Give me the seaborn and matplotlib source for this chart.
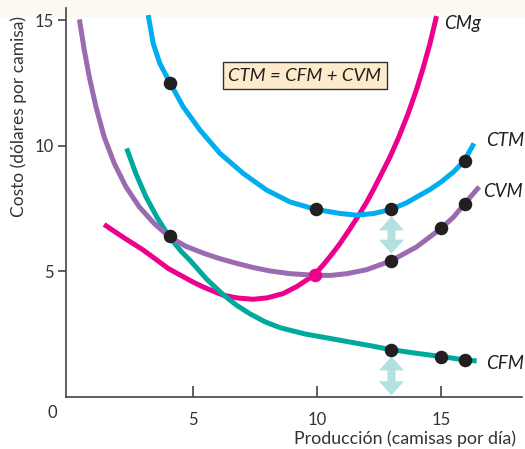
import matplotlib
matplotlib.use("Agg")
import matplotlib.pyplot as plt
import seaborn as sns
from matplotlib.patches import Rectangle

# curves (output, cost)
ctm_x = [3.18, 3.38, 3.65, 4.06, 4.59, 5.27, 6.08, 7.02, 7.96, 8.9, 9.94, 10.92, 11.6, 12.3,
         12.98, 13.6, 14.1, 14.55, 15.0, 15.5, 15.93, 16.33]
ctm_y = [15.2, 14.07, 13.27, 12.5, 11.55, 10.62, 9.69, 8.89, 8.23, 7.76, 7.46, 7.30, 7.23, 7.3,
         7.46, 7.72, 8.0, 8.25, 8.55, 8.95, 9.38, 10.09]

cvm_x = [0.40, 0.60, 0.80, 1.07, 1.40, 1.81, 2.28, 2.82, 3.42, 4.03, 4.7, 5.4, 6.0, 6.75, 7.4,
         8.09, 8.9, 9.87, 10.52, 11.2, 12.0, 12.98, 14.02, 15.0, 15.5, 15.93, 16.54]
cvm_y = [15.03, 13.80, 12.74, 11.55, 10.35, 9.29, 8.36, 7.56, 6.90, 6.37, 5.99, 5.72, 5.52, 5.31,
         5.15, 5.01, 4.9, 4.84, 4.83, 4.9, 5.06, 5.41, 5.97, 6.7, 7.15, 7.66, 8.36]

cfm_x = [2.31, 2.68, 3.09, 3.56, 4.03, 4.5, 4.86, 5.54, 6.21, 6.75, 7.29, 7.9, 8.5, 9.5, 10.52,
         11.3, 12.1, 12.94, 14.0, 15.0, 15.93, 16.44]
cfm_y = [9.89, 8.89, 7.96, 7.10, 6.37, 5.8, 5.44, 4.68, 4.06, 3.64, 3.30, 2.98, 2.75, 2.5, 2.32,
         2.18, 2.04, 1.88, 1.73, 1.6, 1.47, 1.42]

cmg_x = [1.40, 2.2, 2.98, 4.0, 5.0, 5.4, 6.21, 6.8, 7.42, 8.0, 8.63, 9.2, 9.87, 10.2, 10.52,
         10.9, 11.3, 11.66, 12.0, 12.3, 12.6, 12.94, 13.3, 13.68, 14.0, 14.28, 14.55, 14.82]
cmg_y = [6.86, 6.33, 5.84, 5.1, 4.56, 4.37, 4.04, 3.93, 3.88, 3.94, 4.11, 4.4, 4.84, 5.2, 5.58,
         6.07, 6.65, 7.2, 7.75, 8.3, 8.88, 9.55, 10.35, 11.3, 12.2, 13.1, 14.05, 15.16]

# marked points
ctm_dot_x = [4.05, 9.95, 13.0, 15.95]
ctm_dot_y = [12.5, 7.47, 7.46, 9.38]
cvm_dot_x = [4.05, 13.0, 15.0, 15.95]
cvm_dot_y = [6.39, 5.41, 6.7, 7.66]
cfm_dot_x = [13.0, 15.0, 15.95]
cfm_dot_y = [1.87, 1.59, 1.46]
cmg_dot_x = [9.9]
cmg_dot_y = [4.84]

# arrows at 13 shirts: CTM - CVM gap and CFM
arrow_x = 13.0
gap_top, gap_bottom = 7.18, 5.70
cfm_top, cfm_bottom = 1.60, 0.06

curve_labels = ["CMg", "CTM", "CVM", "CFM"]
label_x = [15.12, 16.8, 16.69, 16.8]
label_y = [14.88, 10.22, 8.19, 1.33]

blue = "#00aeef"
purple = "#9b6bb0"
green = "#00a99d"
pink = "#ec008c"
dot_col = "#231f20"
arrow_col = "#b3e0e1"

sns.set_style("ticks")
plt.rcParams["font.family"] = ["Lato", "DejaVu Sans"]

fig = plt.figure(figsize=(5.25, 4.49), dpi=100)
fig.patches.append(Rectangle((0, 1 - 16 / 449), 1, 16 / 449, transform=fig.transFigure,
                             color="#fbf9f1", zorder=-5))
ax = fig.add_axes([0.1257, 0.1165, 0.8686, 0.8655])
ax.patch.set_alpha(0)

lw = 3.6
for xs, ys, c in [(cmg_x, cmg_y, pink), (cfm_x, cfm_y, green),
                  (cvm_x, cvm_y, purple), (ctm_x, ctm_y, blue)]:
    sns.lineplot(x=xs, y=ys, color=c, lw=lw, sort=False, estimator=None, ax=ax,
                 solid_capstyle="butt", solid_joinstyle="round")

# fat double arrows
def fat_arrow(y0, y1):
    mid = (y0 + y1) / 2
    for end in (y0, y1):
        ax.annotate("", xy=(arrow_x, end), xytext=(arrow_x, mid),
                    arrowprops=dict(arrowstyle="simple,head_length=10,head_width=18,tail_width=5.8",
                                    mutation_scale=1, color=arrow_col, lw=0,
                                    shrinkA=0, shrinkB=0), zorder=1)

fat_arrow(gap_top, gap_bottom)
fat_arrow(cfm_top, cfm_bottom)

sns.scatterplot(x=ctm_dot_x + cvm_dot_x + cfm_dot_x, y=ctm_dot_y + cvm_dot_y + cfm_dot_y,
                color=dot_col, s=95, linewidth=0, zorder=5, ax=ax)
sns.scatterplot(x=cmg_dot_x, y=cmg_dot_y, color=pink, s=95, linewidth=0, zorder=5, ax=ax)

for t, lx, ly in zip(curve_labels, label_x, label_y):
    ax.text(lx, ly, t, fontsize=13.5, style="italic", color=dot_col, ha="left", va="center")

ax.text(9.5, 12.78, "CTM = CFM + CVM", fontsize=13.3, style="italic", color=dot_col,
        ha="center", va="center",
        bbox=dict(boxstyle="square,pad=0.3", fc="#fdebcc", ec="#333333", lw=1))

ax.set_xlim(-0.14, 18.27)
ax.set_ylim(0, 15.48)
ax.set_xticks([5, 10, 15])
ax.set_yticks([5, 10, 15])
ax.tick_params(axis="x", direction="in", length=8, width=1.2, pad=11, labelsize=12,
               colors="#444444", labelcolor="#333333")
ax.tick_params(axis="y", direction="out", length=6, width=1.2, pad=3, labelsize=12,
               colors="#444444", labelcolor="#333333")
sns.despine(ax=ax)
for s in ("left", "bottom"):
    ax.spines[s].set_color("#444444")
    ax.spines[s].set_linewidth(1.2)

ax.set_xlabel("Producción (camisas por día)", fontsize=12.8, color="#333333")
ax.set_ylabel("Costo (dólares por camisa)", fontsize=12.5, color="#333333")
ax.xaxis.set_label_coords(0.743, -0.0857)
ax.yaxis.set_label_coords(-0.0855, 0.72)
fig.text(52 / 525, 1 - 413 / 449, "0", fontsize=12, color="#333333", ha="center", va="center")

fig.savefig("out.png", dpi=100)
